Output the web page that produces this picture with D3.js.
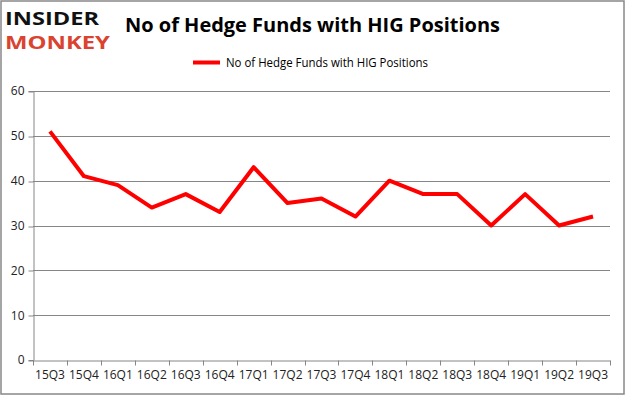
<!DOCTYPE html>
<html>
<head>
<meta charset="utf-8">
<script src="https://cdn.jsdelivr.net/npm/d3@7"></script>
<style>
  body { margin: 0; background: #fff; }
  text { font-family: "Open Sans", "DejaVu Sans", sans-serif; }
</style>
</head>
<body>
<div id="chart"></div>
<script>
const quarters = ["15Q3","15Q4","16Q1","16Q2","16Q3","16Q4","17Q1","17Q2","17Q3","17Q4","18Q1","18Q2","18Q3","18Q4","19Q1","19Q2","19Q3"]
const hedgeFunds = [51, 41, 39, 34, 37, 33, 43, 35, 36, 32, 40, 37, 37, 30, 37, 30, 32]
const yTicks = [0, 10, 20, 30, 40, 50, 60]
const seriesName = "No of Hedge Funds with HIG Positions"

const W = 625, H = 395
const MARGIN = {TOP: 91, BOTTOM: 35, LEFT: 33, RIGHT: 15}
const WIDTH = W - MARGIN.LEFT - MARGIN.RIGHT
const HEIGHT = H - MARGIN.TOP - MARGIN.BOTTOM

const svg = d3.select("#chart").append("svg")
  .attr("width", W)
  .attr("height", H)

// outer frame
svg.append("rect")
  .attr("x", 1).attr("y", 1)
  .attr("width", W - 2).attr("height", H - 2)
  .attr("fill", "#fff")
  .attr("stroke", "#888")
  .attr("stroke-width", 1.5)

// logo
svg.append("text")
  .attr("x", 5).attr("y", 25)
  .attr("font-family", "DejaVu Sans")
  .attr("font-weight", "bold")
  .attr("font-size", 17)
  .attr("textLength", 94)
  .attr("lengthAdjust", "spacingAndGlyphs")
  .attr("fill", "#111")
  .text("INSIDER")
svg.append("text")
  .attr("x", 5).attr("y", 49)
  .attr("font-family", "DejaVu Sans")
  .attr("font-weight", "bold")
  .attr("font-size", 17)
  .attr("textLength", 105)
  .attr("lengthAdjust", "spacingAndGlyphs")
  .attr("fill", "#d9432f")
  .text("MONKEY")

// title
svg.append("text")
  .attr("x", 125).attr("y", 32)
  .attr("font-weight", "bold")
  .attr("font-size", 20)
  .attr("textLength", 375)
  .attr("lengthAdjust", "spacingAndGlyphs")
  .attr("fill", "#000")
  .text("No of Hedge Funds with HIG Positions")

// legend
svg.append("line")
  .attr("x1", 193).attr("x2", 220)
  .attr("y1", 62.5).attr("y2", 62.5)
  .attr("stroke", "#ff0000")
  .attr("stroke-width", 4)
svg.append("text")
  .attr("x", 226).attr("y", 66.5)
  .attr("font-size", 12)
  .attr("textLength", 202)
  .attr("lengthAdjust", "spacingAndGlyphs")
  .attr("fill", "#000")
  .text(seriesName)

const g = svg.append("g")
  .attr("transform", `translate(${MARGIN.LEFT}, ${MARGIN.TOP})`)

const x = d3.scaleBand()
  .domain(quarters)
  .range([0, WIDTH])

const y = d3.scaleLinear()
  .domain([0, 60])
  .range([HEIGHT, 0])

// gridlines
g.append("g")
  .selectAll("line")
  .data(yTicks.filter(d => d > 0))
  .join("line")
    .attr("x1", 0).attr("x2", WIDTH)
    .attr("y1", d => Math.round(y(d)) + 0.5)
    .attr("y2", d => Math.round(y(d)) + 0.5)
    .attr("stroke", "#868686")

// y axis
const yAxis = g.append("g")
  .attr("transform", "translate(0.5,0)")
  .call(d3.axisLeft(y).tickValues(yTicks).tickSize(5).tickPadding(4))
yAxis.select(".domain").attr("stroke", "#868686")
yAxis.selectAll(".tick line").attr("stroke", "#868686")
  .attr("transform", d => `translate(0,${Math.round(y(d)) + 0.5 - y(d)})`)
yAxis.selectAll(".tick text")
  .attr("font-family", "Open Sans, DejaVu Sans, sans-serif")
  .attr("font-size", 12).attr("fill", "#222")

// x axis
const xAxis = g.append("g")
  .attr("transform", `translate(0, ${Math.round(HEIGHT) + 0.5})`)
  .call(d3.axisBottom(x).tickSize(0).tickPadding(10))
xAxis.select(".domain").attr("stroke", "#868686")
xAxis.selectAll(".tick text")
  .attr("font-family", "Open Sans, DejaVu Sans, sans-serif")
  .attr("font-size", 12).attr("fill", "#222")
xAxis.append("g")
  .selectAll("line")
  .data(quarters.concat([null]))
  .join("line")
    .attr("x1", (d, i) => Math.round(i * x.bandwidth()) + 0.5)
    .attr("x2", (d, i) => Math.round(i * x.bandwidth()) + 0.5)
    .attr("y1", 0).attr("y2", 5)
    .attr("stroke", "#868686")

// line
const line = d3.line()
  .x((d, i) => x(quarters[i]) + x.bandwidth() / 2)
  .y(d => y(d))

g.append("path")
  .datum(hedgeFunds)
  .attr("d", line)
  .attr("fill", "none")
  .attr("stroke", "#ff0000")
  .attr("stroke-width", 4)
  .attr("stroke-linejoin", "round")
</script>
</body>
</html>
